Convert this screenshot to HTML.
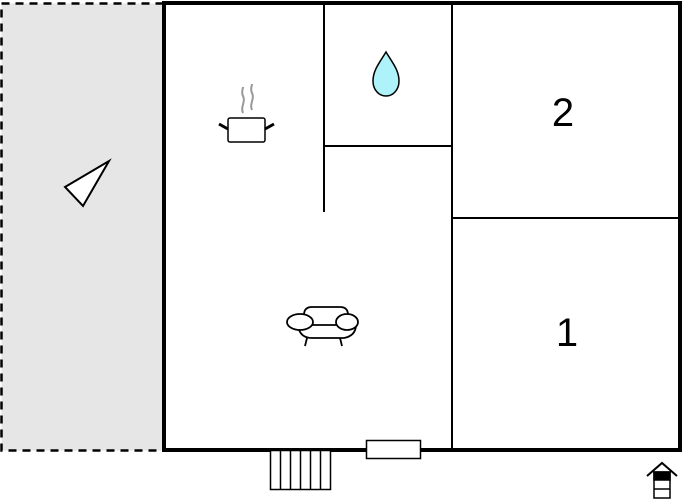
<!DOCTYPE html>
<html><head><style>body{margin:0;background:#fff}svg{display:block}</style></head><body>
<svg width="682" height="500" viewBox="0 0 682 500" xmlns="http://www.w3.org/2000/svg">
<rect x="1.5" y="3.5" width="162" height="447" fill="#e6e6e6" stroke="#000" stroke-width="2.5" stroke-dasharray="8,6"/>
<polygon points="65,187 109,161 83,206" fill="#fff" stroke="#000" stroke-width="2"/>
<g stroke="#000" fill="none">
<path d="M164,3 H680 V450 H164 Z" stroke-width="4"/>
<line x1="164" y1="3" x2="164" y2="450" stroke-width="3"/>
<line x1="324" y1="4" x2="324" y2="212" stroke-width="2"/>
<line x1="452" y1="4" x2="452" y2="449" stroke-width="2"/>
<line x1="324" y1="146" x2="452" y2="146" stroke-width="2"/>
<line x1="452" y1="218" x2="679" y2="218" stroke-width="2"/>
</g>
<rect x="366.5" y="440.5" width="54" height="18" fill="#fff" stroke="#000" stroke-width="1.5"/>
<g fill="#fff" stroke="#000" stroke-width="1.5">
<rect x="270.5" y="450.5" width="60" height="39"/>
<line x1="280.5" y1="450" x2="280.5" y2="490"/>
<line x1="290.5" y1="450" x2="290.5" y2="490"/>
<line x1="300.5" y1="450" x2="300.5" y2="490"/>
<line x1="310.5" y1="450" x2="310.5" y2="490"/>
<line x1="320.5" y1="450" x2="320.5" y2="490"/>
</g>
<!-- pot -->
<path d="M243,113 c-3,-6 3,-11 0,-17 c-2,-4 0,-7 0,-9 M252,110 c-3,-6 3,-11 0,-17 c-2,-4 0,-7 0,-9" stroke="#999" stroke-width="2" fill="none"/>
<rect x="228" y="118" width="37" height="24" rx="2" fill="#fff" stroke="#000" stroke-width="1.5"/>
<path d="M219,124 l9,5 M274,124 l-9,5" stroke="#000" stroke-width="3"/>
<!-- drop -->
<path d="M386,52 C380,62 373,70 373,81 C373,90 379,96 386,96 C393,96 399,90 399,81 C399,70 392,62 386,52 Z" fill="#aef2fa" stroke="#000" stroke-width="1.5"/>
<!-- chair -->
<g fill="#fff" stroke="#000" stroke-width="1.8">
<path d="M300,333 L304,330 V315 Q304,307 312,307 H340 Q348,307 348,315 V330"/>
<path d="M298,326 Q300,338 312,338 H344 Q355,336 356,326"/>
<line x1="307" y1="338" x2="305" y2="346"/><line x1="340" y1="338" x2="342" y2="346"/>
<ellipse cx="300" cy="322" rx="13" ry="8"/>
<ellipse cx="347" cy="322" rx="11" ry="8"/>
<line x1="312" y1="325" x2="336" y2="325"/>
</g>
<text x="563" y="126" font-family="Liberation Sans, sans-serif" font-size="40" text-anchor="middle">2</text>
<text x="567" y="346" font-family="Liberation Sans, sans-serif" font-size="40" text-anchor="middle">1</text>
<!-- entrance icon -->
<g stroke="#000" fill="#fff" stroke-width="1.5">
<path d="M647,476 L662,463 L677,476" fill="none" stroke-width="2"/>
<rect x="654" y="472" width="16" height="26"/>
<rect x="654" y="472" width="16" height="8" fill="#000"/>
<line x1="654" y1="489" x2="670" y2="489"/>
</g>
</svg>
</body></html>
